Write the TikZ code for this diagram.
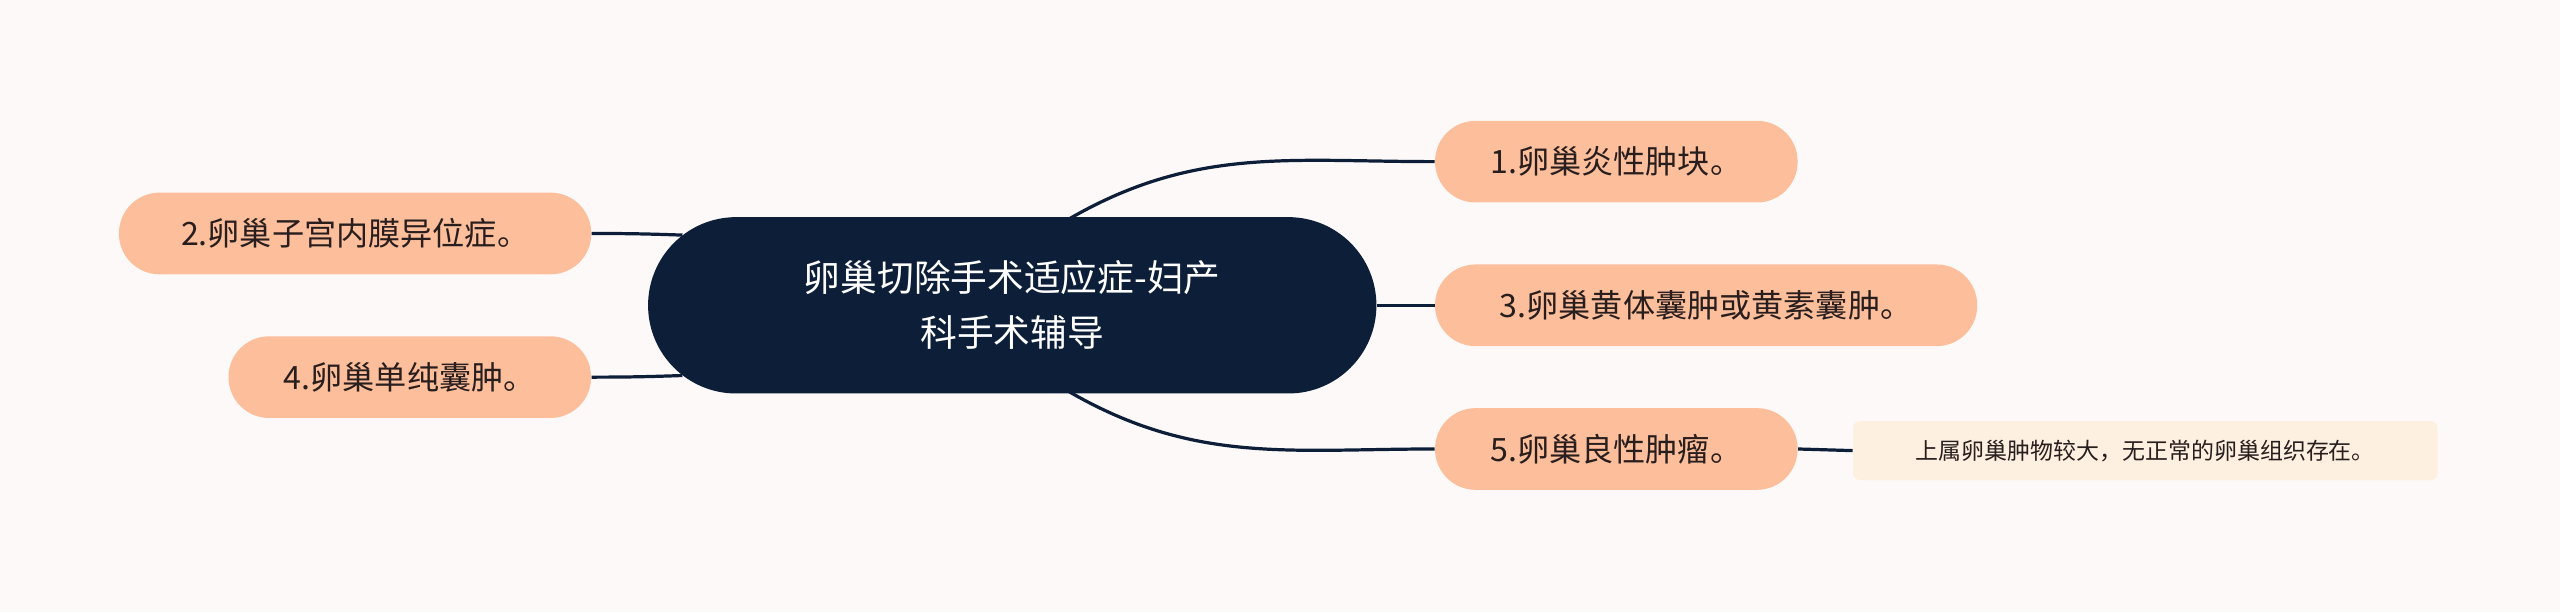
\documentclass[tikz,border=0pt]{standalone}
\usepackage{fontspec}
\newfontfamily\cjk{Noto Sans CJK SC}
\definecolor{peach}{RGB}{253,190,156}
\definecolor{navy}{RGB}{13,31,56}
\definecolor{bgc}{RGB}{253,249,248}
\definecolor{notec}{RGB}{253,240,224}
\definecolor{txtc}{RGB}{40,30,30}
\begin{document}
\begin{tikzpicture}
[x=0.025cm,y=-0.025cm,
 br/.style={fill=peach,rounded corners=0.62cm,minimum height=1.25cm,font=\cjk\fontsize{14pt}{16pt}\selectfont,text=txtc,inner sep=0pt},
 ln/.style={draw=navy,line width=1.4pt}]
\fill[bgc] (0,0) rectangle (1568,375);
\node [fill=navy,rounded corners=1.35cm,minimum width=11.15cm,minimum height=2.7cm,align=center,text=white,font=\cjk\fontsize{16pt}{24pt}\selectfont] at (620,187) (root) {卵巢切除手术适应症-妇产\\科手术辅导};
\node [br,minimum width=5.55cm] at (990,99) (n1) {1.卵巢炎性肿块。};
\node [br,minimum width=8.3cm] at (1045,187) (n3) {3.卵巢黄体囊肿或黄素囊肿。};
\node [br,minimum width=5.55cm] at (990,275) (n5) {5.卵巢良性肿瘤。};
\node [br,minimum width=7.23cm] at (217.5,143) (n2) {2.卵巢子宫内膜异位症。};
\node [br,minimum width=5.55cm] at (251,231) (n4) {4.卵巢单纯囊肿。};
\node [fill=notec,rounded corners=3pt,minimum width=8.95cm,minimum height=0.9cm,inner sep=0pt,font=\cjk\fontsize{10pt}{12pt}\selectfont,text=txtc] at (1314,276) (t5) {上属卵巢肿物较大，无正常的卵巢组织存在。};

\draw [ln] (655,134) to [out=30,in=180] (n1.west);
\draw [ln] (root.east) -- (n3.west);
\draw [ln] (655,240) to [out=-30,in=180] (n5.west);
\draw [ln] (n2.east) to [out=0,in=178] (418,144);
\draw [ln] (n4.east) to [out=0,in=182] (418,230);
\draw [ln] (n5.east) -- (t5.west);
\end{tikzpicture}
\end{document}
